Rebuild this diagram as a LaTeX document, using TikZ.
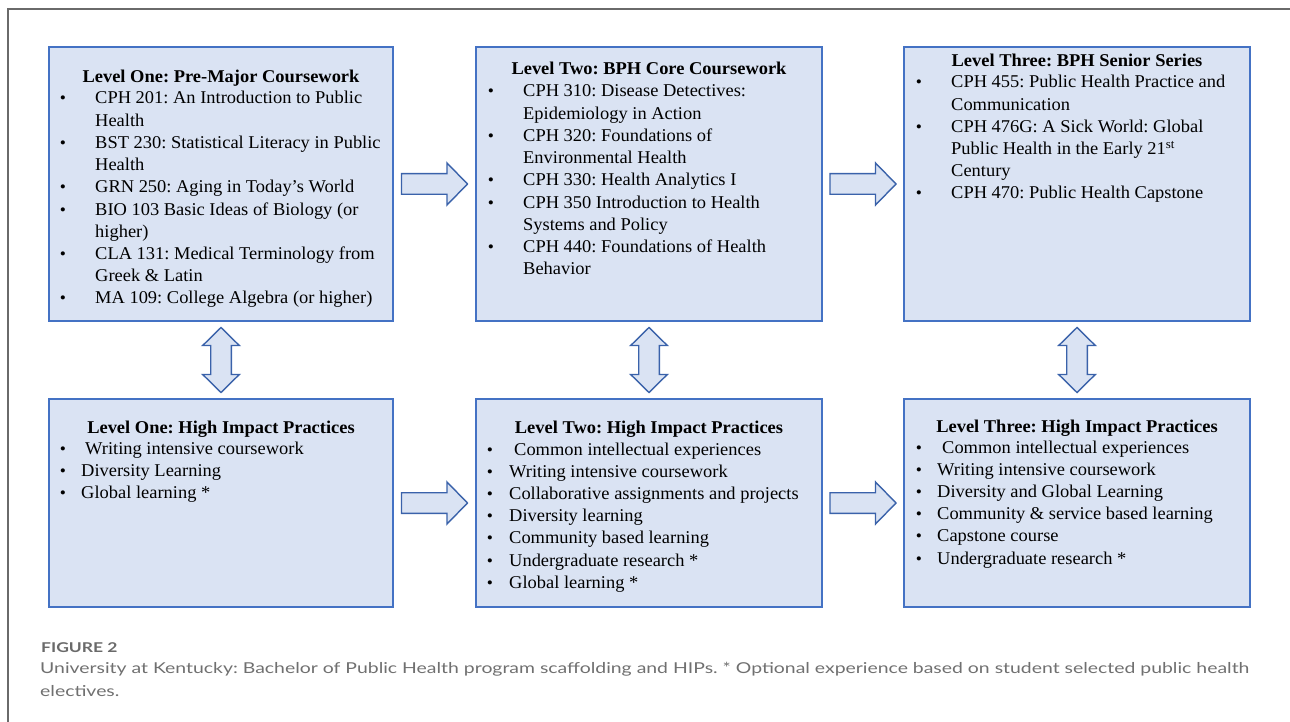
\documentclass[tikz,border=0pt]{standalone}
\usepackage{fontspec}
\setmainfont{Liberation Serif}[FakeStretch=1.025]
\newfontfamily\capfont{Lato}
\usepackage{xfp}
\usetikzlibrary{calc}
\definecolor{boxfill}{HTML}{DAE3F3}
\definecolor{boxdraw}{HTML}{4472C4}
\definecolor{arrdraw}{HTML}{3A62AA}
\definecolor{framegray}{HTML}{6A6A6A}
\definecolor{capgray}{HTML}{707070}
\newsavebox\capboxa
\begin{document}
\frenchspacing
\sbox{\capboxa}{\color{capgray}\capfont\fontsize{15}{22}\selectfont University at Kentucky: Bachelor of Public Health program scaffolding and HIPs. * Optional experience based on student selected public health}%
\edef\capsx{\fpeval{1209pt/(\the\wd\capboxa)}}%
\begin{tikzpicture}[x=1pt,y=-1pt,
  box/.style={draw=boxdraw,fill=boxfill,line width=1.6pt,inner sep=0pt},
  arrsty/.style={draw=arrdraw,fill=boxfill,line width=1.4pt,line join=miter},
  harr/.pic={\draw[arrsty] (-33,-10.3) -- (12.5,-10.3) -- (12.5,-21) -- (33,0) -- (12.5,21) -- (12.5,10.3) -- (-33,10.3) -- cycle;},
  varr/.pic={\draw[arrsty] (0,-32.5) -- (18.3,-14.5) -- (10.3,-14.5) -- (10.3,14.5) -- (18.3,14.5) -- (0,32.5) -- (-18.3,14.5) -- (-10.3,14.5) -- (-10.3,-14.5) -- (-18.3,-14.5) -- cycle;},
  ln/.style={anchor=base west,inner sep=0pt,font=\fontsize{18}{22}\selectfont},
  ttl/.style={anchor=base,inner sep=0pt,font=\fontsize{18}{22}\selectfont\bfseries},
  bul/.style={anchor=base,inner sep=0pt,font=\fontsize{17}{22}\selectfont}]
\useasboundingbox (0,0) rectangle (1290,722);
\fill[white] (0,0) rectangle (1290,722);
\draw[framegray,line width=1.3pt] (8,722) -- (8,9) -- (1290,9);

% boxes
\node[box,minimum width=344pt,minimum height=274pt] (b11) at (221,184) {};
\node[box,minimum width=346pt,minimum height=274pt] (b12) at (649,184) {};
\node[box,minimum width=346pt,minimum height=274pt] (b13) at (1077,184) {};
\node[box,minimum width=344pt,minimum height=208pt] (b21) at (221,503) {};
\node[box,minimum width=346pt,minimum height=208pt] (b22) at (649,503) {};
\node[box,minimum width=346pt,minimum height=208pt] (b23) at (1077,503) {};

% block arrows
\coordinate (m1) at ($(b11.east)!0.5!(b12.west)$);
\coordinate (m2) at ($(b12.east)!0.5!(b13.west)$);
\coordinate (m3) at ($(b21.east)!0.5!(b22.west)$);
\coordinate (m4) at ($(b22.east)!0.5!(b23.west)$);
\coordinate (n1) at ($(b11.south)!0.5!(b21.north)$);
\coordinate (n2) at ($(b12.south)!0.5!(b22.north)$);
\coordinate (n3) at ($(b13.south)!0.5!(b23.north)$);
\pic at (m1) {harr};
\pic at (m2) {harr};
\pic at (m3) {harr};
\pic at (m4) {harr};
\pic at (n1) {varr};
\pic at (n2) {varr};
\pic at (n3) {varr};

% box 1
\node[ttl] (t11) at (221,83) {Level One: Pre-Major Coursework};
\node[bul] (p11a) at (63,104) {•};
\node[ln] (l11a) at (95,104) {CPH 201: An Introduction to Public};
\node[ln] (l11b) at (95,126.2) {Health};
\node[bul] (p11c) at (63,148.4) {•};
\node[ln] (l11c) at (95,148.4) {BST 230: Statistical Literacy in Public};
\node[ln] (l11d) at (95,170.6) {Health};
\node[bul] (p11e) at (63,192.8) {•};
\node[ln] (l11e) at (95,192.8) {GRN 250: Aging in Today’s World};
\node[bul] (p11f) at (63,215) {•};
\node[ln] (l11f) at (95,215) {BIO 103 Basic Ideas of Biology (or};
\node[ln] (l11g) at (95,237.2) {higher)};
\node[bul] (p11h) at (63,259.4) {•};
\node[ln] (l11h) at (95,259.4) {CLA 131: Medical Terminology from};
\node[ln] (l11i) at (95,281.6) {Greek \& Latin};
\node[bul] (p11j) at (63,303.8) {•};
\node[ln] (l11j) at (95,303.8) {MA 109: College Algebra (or higher)};

% box 2
\node[ttl] (t12) at (649,75) {Level Two: BPH Core Coursework};
\node[bul] (p12a) at (491,97) {•};
\node[ln] (l12a) at (523,97) {CPH 310: Disease Detectives:};
\node[ln] (l12b) at (523,119.2) {Epidemiology in Action};
\node[bul] (p12c) at (491,141.4) {•};
\node[ln] (l12c) at (523,141.4) {CPH 320: Foundations of};
\node[ln] (l12d) at (523,163.6) {Environmental Health};
\node[bul] (p12e) at (491,185.8) {•};
\node[ln] (l12e) at (523,185.8) {CPH 330: Health Analytics I};
\node[bul] (p12f) at (491,208) {•};
\node[ln] (l12f) at (523,208) {CPH 350 Introduction to Health};
\node[ln] (l12g) at (523,230.2) {Systems and Policy};
\node[bul] (p12h) at (491,252.4) {•};
\node[ln] (l12h) at (523,252.4) {CPH 440: Foundations of Health};
\node[ln] (l12i) at (523,274.6) {Behavior};

% box 3
\node[ttl] (t13) at (1077,67) {Level Three: BPH Senior Series};
\node[bul] (p13a) at (919,88) {•};
\node[ln] (l13a) at (951,88) {CPH 455: Public Health Practice and};
\node[ln] (l13b) at (951,110.2) {Communication};
\node[bul] (p13c) at (919,132.4) {•};
\node[ln] (l13c) at (951,132.4) {CPH 476G: A Sick World: Global};
\node[ln] (l13d) at (951,154.6) {Public Health in the Early 21\textsuperscript{st}};
\node[ln] (l13e) at (951,176.8) {Century};
\node[bul] (p13f) at (919,199) {•};
\node[ln] (l13f) at (951,199) {CPH 470: Public Health Capstone};

% box 4
\node[ttl] (t21) at (221,433) {Level One: High Impact Practices};
\node[bul] (p21a) at (63,454) {•};
\node[ln] (l21a) at (85,454) {Writing intensive coursework};
\node[bul] (p21b) at (63,476.2) {•};
\node[ln] (l21b) at (81,476.2) {Diversity Learning};
\node[bul] (p21c) at (63,498.4) {•};
\node[ln] (l21c) at (81,498.4) {Global learning *};

% box 5
\node[ttl] (t22) at (649,433) {Level Two: High Impact Practices};
\node[bul] (p22a) at (490,455) {•};
\node[ln] (l22a) at (514,455) {Common intellectual experiences};
\node[bul] (p22b) at (490,477.2) {•};
\node[ln] (l22b) at (509,477.2) {Writing intensive coursework};
\node[bul] (p22c) at (490,499.4) {•};
\node[ln] (l22c) at (509,499.4) {Collaborative assignments and projects};
\node[bul] (p22d) at (490,521.6) {•};
\node[ln] (l22d) at (509,521.6) {Diversity learning};
\node[bul] (p22e) at (490,543.8) {•};
\node[ln] (l22e) at (509,543.8) {Community based learning};
\node[bul] (p22f) at (490,566) {•};
\node[ln] (l22f) at (509,566) {Undergraduate research *};
\node[bul] (p22g) at (490,588.2) {•};
\node[ln] (l22g) at (509,588.2) {Global learning *};

% box 6
\node[ttl] (t23) at (1077,432) {Level Three: High Impact Practices};
\node[bul] (p23a) at (919,453) {•};
\node[ln] (l23a) at (942,453) {Common intellectual experiences};
\node[bul] (p23b) at (919,475.2) {•};
\node[ln] (l23b) at (937,475.2) {Writing intensive coursework};
\node[bul] (p23c) at (919,497.4) {•};
\node[ln] (l23c) at (937,497.4) {Diversity and Global Learning};
\node[bul] (p23d) at (919,519.6) {•};
\node[ln] (l23d) at (937,519.6) {Community \& service based learning};
\node[bul] (p23e) at (919,541.8) {•};
\node[ln] (l23e) at (937,541.8) {Capstone course};
\node[bul] (p23f) at (919,564) {•};
\node[ln] (l23f) at (937,564) {Undergraduate research *};

% caption
\node[anchor=base west,inner sep=0pt,text=framegray] (fig) at (41,652) {\scalebox{\capsx}[1]{\capfont\fontsize{13.5}{15}\selectfont\bfseries FIGURE 2}};
\node[anchor=base west,inner sep=0pt,text=capgray] (cap1) at (40,673) {\scalebox{\capsx}[1]{\usebox\capboxa}};
\node[anchor=base west,inner sep=0pt,text=capgray] (cap2) at (40,696) {\scalebox{\capsx}[1]{\capfont\fontsize{15}{22}\selectfont electives.}};
\end{tikzpicture}
\end{document}
